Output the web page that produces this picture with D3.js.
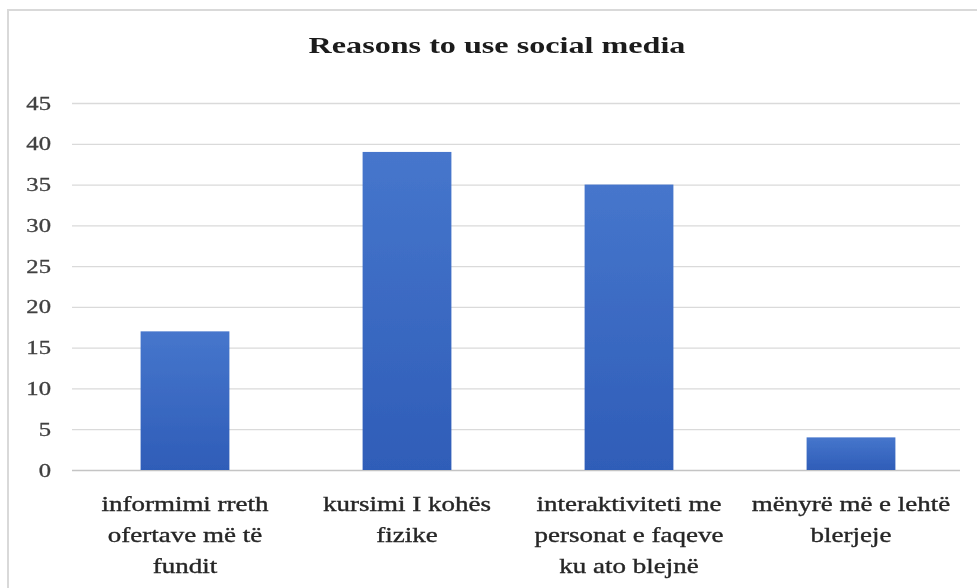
<!DOCTYPE html>
<html>
<head>
<meta charset="utf-8">
<script src="https://cdn.jsdelivr.net/npm/d3@7"></script>
<style>
  html, body { margin: 0; padding: 0; background: #ffffff; }
  svg { display: block; }
</style>
</head>
<body>
<svg id="chart" width="977" height="588"></svg>
<script>
// Survey answers: why respondents use social media
const chartTitle = "Reasons to use social media";
const categories = [
  "informimi rreth ofertave më të fundit",
  "kursimi I kohës fizike",
  "interaktiviteti me personat e faqeve ku ato blejnë",
  "mënyrë më e lehtë blerjeje"
];
const categoryLines = [
  ["informimi rreth", "ofertave më të", "fundit"],
  ["kursimi I kohës", "fizike"],
  ["interaktiviteti me", "personat e faqeve", "ku ato blejnë"],
  ["mënyrë më e lehtë", "blerjeje"]
];
const values = [17, 39, 35, 4];
const yTicks = [0, 5, 10, 15, 20, 25, 30, 35, 40, 45];

const svg = d3.select("#chart");
const W = 977, H = 588;
const plot = { left: 72, right: 960, top: 103, bottom: 470 };
const serif = "'Liberation Serif', 'Times New Roman', serif";

const defs = svg.append("defs");
const grad = defs.append("linearGradient")
  .attr("id", "barFill").attr("x1", 0).attr("y1", 0).attr("x2", 0).attr("y2", 1);
grad.append("stop").attr("offset", "0%").attr("stop-color", "#4676cc");
grad.append("stop").attr("offset", "100%").attr("stop-color", "#2f5db8");
// slight softening of the whole drawing
defs.append("filter").attr("id", "soft")
  .append("feGaussianBlur").attr("stdDeviation", 0.55);

const root = svg.append("g").attr("filter", "url(#soft)");

// chart frame
root.append("rect")
  .attr("x", 8).attr("y", 10)
  .attr("width", W + 10).attr("height", H + 10)
  .attr("fill", "#ffffff")
  .attr("stroke", "#d9d9d9")
  .attr("stroke-width", 2);

const x = d3.scaleBand()
  .domain(categories)
  .range([plot.left + 2, plot.right + 2])
  .paddingInner(0.6)
  .paddingOuter(0.3);

const y = d3.scaleLinear()
  .domain([0, 45])
  .range([plot.bottom, plot.top]);

// horizontal gridlines
const yAxis = d3.axisLeft(y)
  .tickValues(yTicks)
  .tickSize(-(plot.right - plot.left))
  .tickFormat("");
const gGrid = root.append("g")
  .attr("transform", `translate(${plot.left},0)`)
  .call(yAxis);
gGrid.select(".domain").remove();
gGrid.selectAll(".tick line")
  .attr("stroke", d => d === 0 ? "#c4c4c4" : "#dadada")
  .attr("stroke-width", 1.3);

// y tick labels, drawn wide to follow the stretched lettering
const stretchTicks = 1.3;
root.append("g").selectAll("text")
  .data(yTicks)
  .join("text")
  .attr("transform", d => `translate(51,${y(d) + 6.5}) scale(${stretchTicks},1)`)
  .attr("text-anchor", "end")
  .attr("font-family", serif)
  .attr("font-size", 19)
  .attr("fill", "#404040")
  .attr("stroke", "#404040")
  .attr("stroke-width", 0.3)
  .text(d => d);

// bars
root.append("g").selectAll("rect")
  .data(values)
  .join("rect")
  .attr("x", (d, i) => x(categories[i]))
  .attr("y", d => y(d))
  .attr("width", x.bandwidth())
  .attr("height", d => y(0) - y(d))
  .attr("fill", "url(#barFill)");

// category labels
const stretchCats = 1.35;
const lineGap = 31;
const gCats = root.append("g");
categories.forEach((c, i) => {
  const cx = x(c) + x.bandwidth() / 2;
  categoryLines[i].forEach((line, j) => {
    gCats.append("text")
      .attr("transform", `translate(${cx},${511 + j * lineGap}) scale(${stretchCats},1)`)
      .attr("text-anchor", "middle")
      .attr("font-family", serif)
      .attr("font-size", 20)
      .attr("fill", "#262626")
      .attr("stroke", "#262626")
      .attr("stroke-width", 0.35)
      .text(line);
  });
});

// title
root.append("text")
  .attr("transform", `translate(497,53) scale(1.34,1)`)
  .attr("text-anchor", "middle")
  .attr("font-family", serif)
  .attr("font-weight", "bold")
  .attr("font-size", 24)
  .attr("fill", "#1a1a1a")
  .text(chartTitle);
</script>
</body>
</html>
